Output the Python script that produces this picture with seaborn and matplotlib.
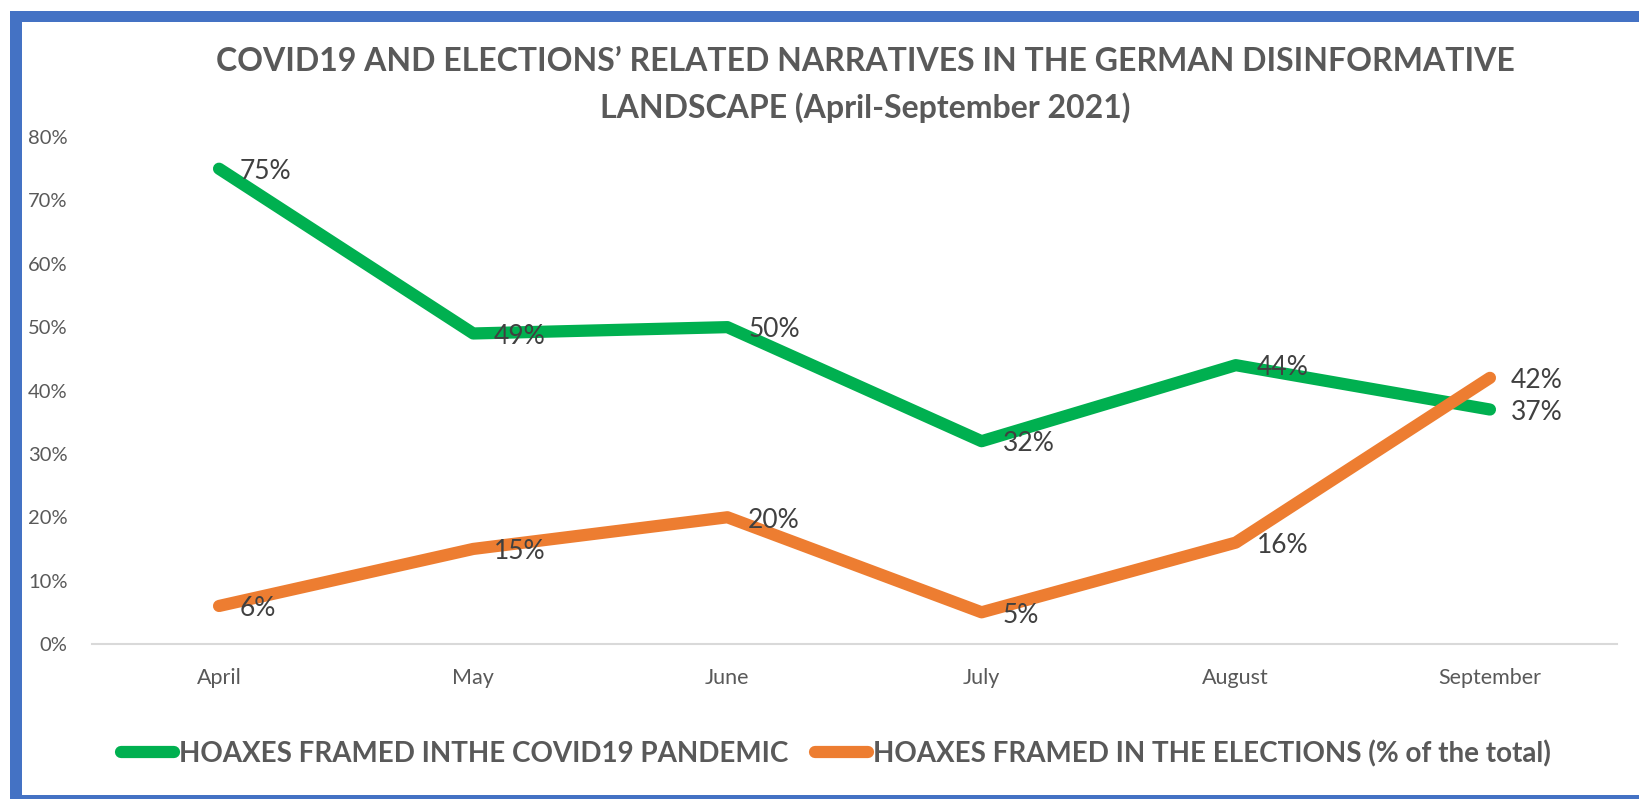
import matplotlib
matplotlib.use("Agg")
import matplotlib.pyplot as plt
import seaborn as sns
import pandas as pd
from matplotlib.lines import Line2D
from matplotlib.patches import Rectangle, FancyBboxPatch

months = ["April", "May", "June", "July", "August", "September"]
covid_pct = [75, 49, 50, 32, 44, 37]
election_pct = [6, 15, 20, 5, 16, 42]
series_names = ["HOAXES FRAMED INTHE COVID19 PANDEMIC",
                "HOAXES FRAMED IN THE ELECTIONS (% of the total)"]
y_ticks = [0, 10, 20, 30, 40, 50, 60, 70, 80]
title = ("COVID19 AND ELECTIONS\u2019 RELATED NARRATIVES IN THE GERMAN DISINFORMATIVE\n"
         "LANDSCAPE (April-September 2021)")

colors = ["#00B050", "#ED7D31"]
gray = "#595959"
FONT = "Lato"
W, H = 1639, 799

sns.set_theme(style="white")
plt.rcParams["font.family"] = [FONT, "DejaVu Sans"]

df = pd.DataFrame({
    "month": months * 2,
    "value": covid_pct + election_pct,
    "series": [series_names[0]] * len(months) + [series_names[1]] * len(months),
})

fig = plt.figure(figsize=(W / 100, H / 100), dpi=100)
ax = fig.add_axes([0.0561, 0.194, 0.9305, 0.6345])

sns.lineplot(data=df, x="month", y="value", hue="series", palette=colors,
             linewidth=8.8, legend=False, ax=ax, sort=False)
for ln in ax.get_lines():
    ln.set_solid_capstyle("round")
    ln.set_solid_joinstyle("round")

ax.set_xlim(-0.5, len(months) - 0.5)
ax.set_ylim(0, 80)
ax.set_yticks(y_ticks)
ax.set_yticklabels([f"{t}%" for t in y_ticks])
ax.set_xlabel("")
ax.set_ylabel("")
ax.tick_params(axis="both", length=0, labelcolor=gray)
ax.tick_params(axis="y", pad=17.5, labelsize=14.5)
ax.tick_params(axis="x", pad=17, labelsize=15.5)
for s in ["top", "right", "left"]:
    ax.spines[s].set_visible(False)
ax.spines["bottom"].set_color("#D9D9D9")
ax.spines["bottom"].set_linewidth(1.5)
ax.grid(False)

for vals in (covid_pct, election_pct):
    for i, v in enumerate(vals):
        ax.annotate(f"{v}%", (i, v), xytext=(15, -2), textcoords="offset points",
                    ha="left", va="center", fontsize=19, color="#404040")

fig.text(0.528, 0.894, title, ha="center", va="center", fontsize=23,
         fontweight="bold", color=gray, linespacing=1.62)

handles = [Line2D([0], [0], color=c, linewidth=8.8, solid_capstyle="round") for c in colors]
fig.legend(handles, series_names, loc="center", bbox_to_anchor=(0.51, 0.057), ncol=2,
           frameon=False, handlelength=1.9, handletextpad=0.2, columnspacing=0.95,
           prop={"family": FONT, "weight": "bold", "size": 20},
           labelcolor=gray)

blue = "#4472C4"
# frame strips (left, top, bottom), in figure pixels
fig.add_artist(Rectangle((10 / W, 0), 12 / W, 1 - 11 / H, transform=fig.transFigure,
                         facecolor=blue, edgecolor="none"))
fig.add_artist(Rectangle((10 / W, 1 - 22 / H), 1, 11 / H, transform=fig.transFigure,
                         facecolor=blue, edgecolor="none"))
fig.add_artist(Rectangle((10 / W, 0), 1, 4.5 / H, transform=fig.transFigure,
                         facecolor=blue, edgecolor="none"))

fig.savefig("out.png", dpi=100)
